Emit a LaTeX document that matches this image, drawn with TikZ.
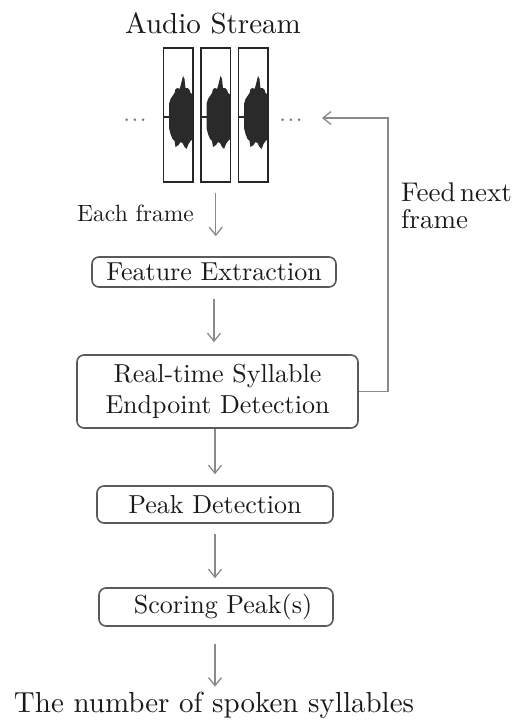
\documentclass[tikz,border=0pt]{standalone}
\usepackage{fontspec}
\setmainfont{lmroman10-regular.otf}
\usetikzlibrary{arrows.meta}
\definecolor{boxc}{HTML}{5A5A5A}
\definecolor{arrc}{HTML}{8A8A8A}
\definecolor{txt}{HTML}{1A1A1A}
\definecolor{wave}{HTML}{2A2A2A}
\begin{document}
\begin{tikzpicture}[x=1pt,y=-1pt,
  box/.style={draw=boxc, line width=1.6pt, rounded corners=7pt, inner sep=0pt,
    text=txt, font=\fontsize{26}{31}\selectfont, align=center},
  arr/.style={draw=arrc, line width=1.3pt,
    -{Straight Barb[length=8pt,width=13pt,line width=1.3pt]}},
  frm/.style={draw=black!85, line width=1.1pt, minimum width=29.5pt,
    minimum height=134pt, inner sep=0pt},
  lbl/.style={text=txt, inner sep=0pt},
  dotsty/.style={text=black!55, inner sep=0pt, font=\fontsize{24}{28}\selectfont}]
\useasboundingbox (0,0) rectangle (515,720);

% title
\node[lbl, font=\fontsize{29}{34}\selectfont] (title) at (213,23) {Audio Stream};

% frames with waveforms
\foreach \lx in {163.5,201,238.5}{
  \begin{scope}
    \clip (\lx,48) rectangle ++(29.5,134);
    \draw[wave, line width=1.2pt] (\lx,117) -- ++(6,0);
    \fill[wave] (\lx+5.5,117) -- (\lx+5.5,104) -- (\lx+7,99) -- (\lx+9,96)
      -- (\lx+11,93) -- (\lx+12,89) -- (\lx+14,88) -- (\lx+16,89)
      -- (\lx+17,86) -- (\lx+18,82) -- (\lx+19.5,76) -- (\lx+21,79)
      -- (\lx+21.5,84) -- (\lx+22,88) -- (\lx+24,88) -- (\lx+26,90)
      -- (\lx+27,93) -- (\lx+30,95) -- (\lx+30,138) -- (\lx+27,141)
      -- (\lx+25,144) -- (\lx+23,149) -- (\lx+21,147) -- (\lx+19,143)
      -- (\lx+17,142) -- (\lx+15,145) -- (\lx+12,147) -- (\lx+11,141)
      -- (\lx+9,139) -- (\lx+7,134) -- (\lx+5.5,128) -- cycle;
  \end{scope}
}
\node[frm] (f1) at (178.25,115) {};
\node[frm] (f2) at (215.75,115) {};
\node[frm] (f3) at (253.25,115) {};

\node[dotsty, anchor=base] (dl) at (135,121) {.\hspace{1.6pt}.\hspace{1.6pt}.};
\node[dotsty, anchor=base] (dr) at (291,121) {.\hspace{1.6pt}.\hspace{1.6pt}.};

% label
\node[lbl, font=\fontsize{23.5}{28}\selectfont, anchor=east] (each) at (194,213) {Each frame};

% boxes
\node[box, minimum width=244pt, minimum height=30pt] (fe) at (214,272) {Feature Extraction};
\node[box, minimum width=281pt, minimum height=73pt] (rt) at (217.5,391.5)
  {Real-time Syllable\\Endpoint Detection};
\node[box, minimum width=236pt, minimum height=37pt] (pd) at (215,504.5) {Peak Detection};
\node[box, minimum width=234pt, minimum height=38pt] (sp) at (216,607)
  {\hspace*{14pt}Scoring Peak(s)};
\node[lbl, font=\fontsize{29}{34}\selectfont] (out) at (214,705)
  {The number of spoken syllables};

\node[lbl, font=\fontsize{27}{27}\selectfont, align=left, anchor=north west] (feed)
  at (401,183) {Feed\,next\\frame};

% connectors
\draw[arr, shorten <=10pt, shorten >=20pt] (f2.south) -- (f2.south |- fe.north);
\draw[arr, shorten <=11pt, shorten >=12pt] (fe.south) -- (fe.south |- rt.north);
\draw[arr, shorten <=0pt, shorten >=11pt] (pd.north |- rt.south) -- (pd.north);
\draw[arr, shorten <=10pt, shorten >=9pt] (pd.south) -- (pd.south |- sp.north);
\draw[arr, shorten <=17pt, shorten >=5pt] (sp.south -| pd.south) -- (pd.south |- out.north);

\coordinate (corner) at (388,118);
\coordinate (fbend) at (322,118);
\draw[arr] (rt.east) -| (corner) |- (fbend);
\end{tikzpicture}
\end{document}
